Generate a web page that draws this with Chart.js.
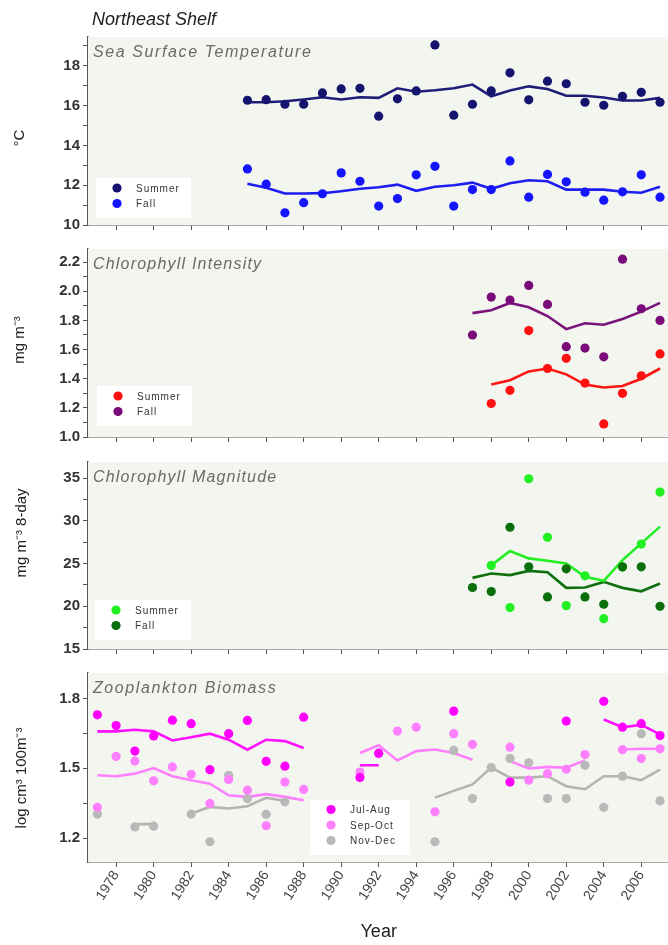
<!DOCTYPE html>
<html><head><meta charset="utf-8">
<script src="https://cdn.jsdelivr.net/npm/chart.js@4.4.1/dist/chart.umd.min.js"></script>
<style>
html,body{margin:0;padding:0;background:#fff;overflow:hidden;width:668px;height:945px;position:relative;}
canvas{position:absolute;left:0;}
</style></head><body>
<canvas id="c1" width="674" height="237" style="top:0px"></canvas>
<canvas id="c2" width="674" height="212" style="top:237px"></canvas>
<canvas id="c3" width="674" height="212" style="top:449px"></canvas>
<canvas id="c4" width="674" height="284" style="top:661px"></canvas>
<script>
// ---------- DATA ----------
const mainTitle = 'Northeast Shelf';
const xTickYears = [1978,1980,1982,1984,1986,1988,1990,1992,1994,1996,1998,2000,2002,2004,2006];
const xTitle = 'Year';

// Sea Surface Temperature
const sstYears = [1985,1986,1987,1988,1989,1990,1991,1992,1993,1994,1995,1996,1997,1998,1999,2000,2001,2002,2003,2004,2005,2006,2007];
const sstSummer = [16.27,16.30,16.07,16.07,16.64,16.84,16.87,15.47,16.34,16.74,19.05,15.52,16.07,16.74,17.65,16.29,17.23,17.10,16.17,16.02,16.47,16.67,16.17];
const sstSummerTrend = [16.17,16.17,16.22,16.31,16.42,16.31,16.42,16.39,16.87,16.70,16.77,16.87,17.06,16.47,16.76,16.97,16.84,16.50,16.50,16.41,16.26,16.26,16.39];
const sstFall = [12.82,12.05,10.61,11.12,11.57,12.62,12.20,10.95,11.33,12.52,12.95,10.95,11.78,11.78,13.22,11.40,12.54,12.17,11.65,11.25,11.67,12.52,11.40];
const sstFallTrend = [12.07,11.87,11.58,11.58,11.60,11.70,11.82,11.90,12.03,11.72,11.92,12.00,12.13,11.82,12.10,12.25,12.20,11.78,11.78,11.78,11.67,11.62,11.92];
const sstTicks = [10,11,12,13,14,15,16,17,18,19];
const sstTickLabels = ['10','','12','','14','','16','','18',''];

// Chlorophyll (1997-2007)
const chlYears = [1997,1998,1999,2000,2001,2002,2003,2004,2005,2006,2007];
const chlIntSummer = [null,1.23,1.32,1.73,1.47,1.54,1.37,1.09,1.30,1.42,1.57];
const chlIntSummerTrend = [null,1.36,1.39,1.45,1.47,1.43,1.36,1.34,1.35,1.40,1.47];
const chlIntFall = [1.70,1.96,1.94,2.04,1.91,1.62,1.61,1.55,2.22,1.88,1.80];
const chlIntFallTrend = [1.85,1.87,1.92,1.89,1.83,1.74,1.78,1.77,1.81,1.86,1.92];
const chlIntTicks = [1.0,1.1,1.2,1.3,1.4,1.5,1.6,1.7,1.8,1.9,2.0,2.1,2.2];
const chlIntTickLabels = ['1.0','','1.2','','1.4','','1.6','','1.8','','2.0','','2.2'];

const chlMagSummer = [null,24.79,19.85,34.94,28.08,20.08,23.57,18.55,24.60,27.29,33.38];
const chlMagSummerTrend = [null,24.79,26.47,25.61,25.33,25.02,23.45,22.98,25.41,27.37,29.33];
const chlMagFall = [22.20,21.73,29.26,24.62,21.10,24.39,21.10,20.24,24.62,24.62,20.00];
const chlMagFallTrend = [23.33,23.84,23.65,24.15,24.00,22.16,22.20,22.86,22.16,21.76,22.67];
const chlMagTicks = [15,17.5,20,22.5,25,27.5,30,32.5,35];
const chlMagTickLabels = ['15','','20','','25','','30','','35'];

// Zooplankton biomass (1977-2007)
const zooYears = [1977,1978,1979,1980,1981,1982,1983,1984,1985,1986,1987,1988,1989,1990,1991,1992,1993,1994,1995,1996,1997,1998,1999,2000,2001,2002,2003,2004,2005,2006,2007];
const zooJulAug = [1.730,1.684,1.574,1.639,1.707,1.692,1.494,1.649,1.706,1.530,1.509,1.720,null,null,1.460,1.565,null,null,null,1.746,null,null,1.441,null,null,1.703,null,1.788,1.677,1.692,1.641];
const zooJulAugTrend = [1.659,1.659,1.666,1.659,1.620,1.634,1.649,1.623,1.580,1.623,1.617,1.587,null,null,1.513,1.513,null,null,null,null,null,null,null,null,null,null,null,1.710,1.677,1.687,1.646];
const zooSepOct = [1.332,1.551,1.531,1.446,1.506,1.474,1.349,1.452,1.406,1.253,1.441,1.409,null,null,1.484,1.563,1.660,1.677,1.313,1.649,1.603,null,1.591,1.449,1.477,1.496,1.559,null,1.580,1.542,1.584];
const zooSepOctTrend = [1.470,1.466,1.477,1.501,1.466,1.449,1.434,1.384,1.377,1.389,1.377,1.363,null,null,1.566,1.599,1.534,1.574,1.581,1.566,1.537,null,1.531,1.499,1.506,1.503,1.534,null,1.581,1.584,1.584];
const zooNovDec = [1.303,null,1.248,1.251,null,1.303,1.184,1.470,1.370,1.302,1.356,null,null,null,null,null,null,null,1.184,1.577,1.370,1.503,1.542,1.524,1.370,1.370,1.513,1.332,1.466,1.649,1.360];
const zooNovDecTrend = [null,null,1.260,1.260,null,1.306,1.334,1.327,1.337,1.373,1.360,null,null,null,null,null,null,null,1.374,1.403,1.431,1.503,1.460,1.460,1.466,1.423,1.410,1.466,1.466,1.449,1.494];
const zooTicks = [1.2,1.35,1.5,1.65,1.8];
const zooTickLabels = ['1.2','','1.5','','1.8'];

// ---------- HELPERS ----------
const FONT = "'Liberation Sans', Arial, sans-serif";
const pts = (xs, ys) => xs.map((x, i) => ({x: x, y: ys[i]}));

function pointDs(label, xs, ys, color, legendRank) {
  return {label, data: pts(xs, ys), showLine: false, pointRadius: 4.6, pointHoverRadius: 4.6,
    pointBackgroundColor: color, pointBorderColor: color, pointBorderWidth: 0, backgroundColor: color,
    borderColor: color, inLegend: true, legendRank: legendRank, order: 1};
}
function lineDs(label, xs, ys, color) {
  return {label, data: pts(xs, ys), showLine: true, pointRadius: 0, borderColor: color, borderWidth: 2.6,
    spanGaps: false, tension: 0, fill: false, inLegend: false, order: 2};
}

const deco = {
  id: 'deco',
  beforeDatasetsDraw(chart, args, o) {
    const {ctx, chartArea: a} = chart;
    ctx.save();
    ctx.fillStyle = '#f3f5ef';
    ctx.fillRect(a.left, a.top, a.right - a.left, a.bottom - a.top);
    ctx.restore();
  },
  afterDatasetsDraw(chart, args, o) {
    const {ctx, chartArea: a} = chart;
    ctx.save();
    // panel title
    ctx.font = 'italic 16px ' + FONT;
    ctx.fillStyle = '#6a6a6a';
    ctx.letterSpacing = o.titleSpacing + 'px';
    ctx.textBaseline = 'alphabetic';
    ctx.textAlign = 'left';
    ctx.fillText(o.panelTitle, a.left + 5, a.top + 20);
    // legend
    const items = chart.data.datasets.filter(d => d.inLegend).sort((p, q) => p.legendRank - q.legendRank);
    const lx = a.left + o.legX, lw = o.legW, lh = 9 + items.length * 15.5;
    const ly = a.bottom - o.legBottom - lh;
    ctx.fillStyle = '#ffffff';
    ctx.fillRect(lx, ly, lw, lh);
    ctx.letterSpacing = '1px';
    ctx.font = '10px ' + FONT;
    ctx.textBaseline = 'middle';
    items.forEach((d, i) => {
      const cy = ly + 10 + i * 15.5;
      ctx.fillStyle = d.pointBackgroundColor;
      ctx.beginPath(); ctx.arc(lx + 21, cy, 4.6, 0, Math.PI * 2); ctx.fill();
      ctx.fillStyle = '#333';
      ctx.fillText(d.label, lx + 40, cy + 1);
    });
    ctx.restore();
  },
  afterDraw(chart, args, o) {
    const {ctx} = chart;
    ctx.save();
    ctx.font = '15px ' + FONT;
    ctx.fillStyle = '#222';
    ctx.textAlign = 'center';
    ctx.textBaseline = 'middle';
    ctx.translate(o.yTitleX, o.yTitleY);
    ctx.rotate(-Math.PI / 2);
    ctx.fillText(o.yTitle, 0, 0);
    ctx.restore();
    if (o.mainTitle) {
      ctx.save();
      ctx.font = 'italic 18px ' + FONT;
      ctx.fillStyle = '#222';
      ctx.textBaseline = 'alphabetic';
      ctx.fillText(o.mainTitle, 92, 25);
      ctx.restore();
    }
  }
};

function makeChart(id, cfg) {
  const showX = !!cfg.showX;
  new Chart(document.getElementById(id), {
    type: 'line',
    data: {datasets: cfg.datasets},
    plugins: [deco],
    options: {
      responsive: false, animation: false, devicePixelRatio: 1,
      layout: {padding: {top: cfg.padTop, left: 0, right: 0, bottom: 0}},
      plugins: {legend: {display: false}, tooltip: {enabled: false}, title: {display: false},
        deco: {panelTitle: cfg.panelTitle, titleSpacing: cfg.titleSpacing, legX: cfg.legX, legW: cfg.legW,
          legBottom: cfg.legBottom, yTitle: cfg.yTitle, yTitleX: cfg.yTitleX, yTitleY: cfg.yTitleY,
          mainTitle: cfg.mainTitle || null}},
      scales: {
        x: {
          type: 'linear', min: 1976.5, max: 2007.5,
          afterBuildTicks: s => { s.ticks = xTickYears.map(v => ({value: v})); },
          afterFit: s => { s.height = cfg.xHeight; },
          grid: {drawOnChartArea: false, drawTicks: true, tickLength: 5, color: '#555', tickWidth: 1},
          border: {color: '#555', width: 1.5},
          ticks: {display: showX, autoSkip: false, minRotation: 58, maxRotation: 58, padding: 1,
            color: '#444', font: {family: FONT, size: 14}, callback: v => String(v)},
          title: {display: showX, text: xTitle, color: '#222', font: {family: FONT, size: 18},
            padding: {top: 0, bottom: 2}}
        },
        y: {
          min: cfg.yMin, max: cfg.yMax,
          afterBuildTicks: s => { s.ticks = cfg.yTicks.map(v => ({value: v})); },
          afterFit: s => { s.width = 88; },
          grid: {drawOnChartArea: false, drawTicks: true, tickLength: 5, color: '#555', tickWidth: 1},
          border: {color: '#555', width: 1.5},
          ticks: {autoSkip: false, padding: 3, color: '#333', font: {family: FONT, size: 15, weight: 'bold'},
            callback: (v, i) => cfg.yTickLabels[i]}
        }
      }
    }
  });
}

makeChart('c1', {
  padTop: 37, xHeight: 12, yMin: 10, yMax: 19.45, yTicks: sstTicks, yTickLabels: sstTickLabels,
  panelTitle: 'Sea Surface Temperature', titleSpacing: 1.6, legX: 8, legW: 95, legBottom: 7,
  yTitle: '°C', yTitleX: 20, yTitleY: 138, mainTitle: mainTitle,
  datasets: [
    pointDs('Summer', sstYears, sstSummer, '#14146e', 0),
    pointDs('Fall', sstYears, sstFall, '#1414ff', 1),
    lineDs('Summer trend', sstYears, sstSummerTrend, '#1e1e78'),
    lineDs('Fall trend', sstYears, sstFallTrend, '#1e1ef0')
  ]
});
makeChart('c2', {
  padTop: 12, xHeight: 12, yMin: 1.0, yMax: 2.29, yTicks: chlIntTicks, yTickLabels: chlIntTickLabels,
  panelTitle: 'Chlorophyll Intensity', titleSpacing: 1.2, legX: 9, legW: 95, legBottom: 11,
  yTitle: 'mg m⁻³', yTitleX: 20, yTitleY: 103,
  datasets: [
    pointDs('Summer', chlYears, chlIntSummer, '#ff1010', 0),
    pointDs('Fall', chlYears, chlIntFall, '#7a0a7a', 1),
    lineDs('Summer trend', chlYears, chlIntSummerTrend, '#ff1414'),
    lineDs('Fall trend', chlYears, chlIntFallTrend, '#7a147a')
  ]
});
makeChart('c3', {
  padTop: 13, xHeight: 12, yMin: 15, yMax: 36.9, yTicks: chlMagTicks, yTickLabels: chlMagTickLabels,
  panelTitle: 'Chlorophyll Magnitude', titleSpacing: 1.2, legX: 7, legW: 96, legBottom: 9,
  yTitle: 'mg m⁻³ 8-day', yTitleX: 22, yTitleY: 84,
  datasets: [
    pointDs('Fall', chlYears, chlMagFall, '#0a6e0a', 1),
    pointDs('Summer', chlYears, chlMagSummer, '#22f022', 0),
    lineDs('Summer trend', chlYears, chlMagSummerTrend, '#22ee22'),
    lineDs('Fall trend', chlYears, chlMagFallTrend, '#0f700f')
  ]
});
makeChart('c4', {
  padTop: 11, xHeight: 83, showX: true, yMin: 1.097, yMax: 1.91, yTicks: zooTicks, yTickLabels: zooTickLabels,
  panelTitle: 'Zooplankton Biomass', titleSpacing: 1.6, legX: 222, legW: 100, legBottom: 7,
  yTitle: 'log cm³ 100m⁻³', yTitleX: 22, yTitleY: 117,
  datasets: [
    pointDs('Jul-Aug', zooYears, zooJulAug, '#ff00ff', 0),
    pointDs('Sep-Oct', zooYears, zooSepOct, '#ff80ff', 1),
    pointDs('Nov-Dec', zooYears, zooNovDec, '#b9b9b9', 2),
    lineDs('Jul-Aug trend', zooYears, zooJulAugTrend, '#ff10ff'),
    lineDs('Sep-Oct trend', zooYears, zooSepOctTrend, '#ff80ff'),
    lineDs('Nov-Dec trend', zooYears, zooNovDecTrend, '#b4b4b4')
  ]
});
</script>
</body></html>
